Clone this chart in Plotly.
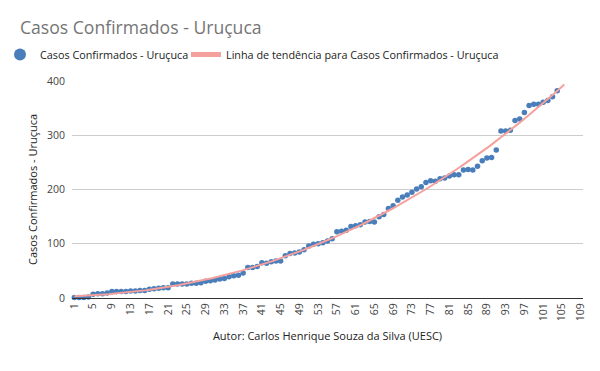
import numpy as np
import plotly.graph_objects as go

# ---- data ----
days = list(range(1, 105))
cases = [1, 1, 1, 2, 7, 8, 8, 9, 12, 12,
         12, 12, 13, 13, 14, 14, 16, 17, 18, 19,
         19, 26, 26, 26, 26, 27, 27, 28, 31, 32,
         33, 35, 36, 39, 41, 42, 46, 56, 56, 58,
         65, 64, 67, 68, 68, 78, 82, 83, 85, 89,
         96, 99, 100, 102, 105, 109, 122, 123, 125, 132,
         133, 135, 140, 141, 140, 150, 154, 165, 170, 180,
         186, 190, 195, 201, 205, 213, 216, 215, 220, 221,
         225, 227, 227, 236, 237, 236, 243, 253, 258, 259,
         273, 308, 308, 309, 327, 330, 342, 355, 357, 357,
         361, 364, 371, 382]
x_tick_vals = [1, 5, 9, 13, 17, 21, 25, 29, 33, 37, 41, 45, 49, 53, 57,
               61, 65, 69, 73, 77, 81, 85, 89, 93, 97, 101, 105, 109]
x_tick_text = ["1", "5", "9", "13", "17", "21", "25", "29", "33", "37", "41",
               "45", "49", "53", "57", "61", "65", "69", "73", "77", "81",
               "85", "89", "93", "97", "101", "105", "109"]
y_tick_vals = [0, 100, 200, 300, 400]

series_name = "Casos Confirmados - Uruçuca"
trend_name = "Linha de tendência para Casos Confirmados - Uruçuca"

# polynomial trendline fitted to the data (as the spreadsheet does)
coef = np.polyfit(days, cases, 3)
tx = np.linspace(days[0], days[-1] + 1.5, 300)
ty = np.polyval(coef, tx)

FONT = "Open Sans"
W, H = 592, 363  # page body has an 8px margin inside the 600x371 window
PL, PR = 64, 575  # plot area left/right in figure px

fig = go.Figure()
fig.add_trace(go.Scatter(
    x=days, y=cases, mode="markers", name=series_name,
    marker=dict(color="#4a7ebb", size=5.5),
    cliponaxis=False, legend="legend",
))
fig.add_trace(go.Scatter(
    x=tx, y=ty, mode="lines", name=trend_name,
    line=dict(color="#f4a19e", width=2),
    hoverinfo="skip", legend="legend2",
))

legend_common = dict(orientation="h", xanchor="left",
                     yref="container", yanchor="top",
                     font=dict(family=FONT, size=10.8, color="#222222"),
                     itemsizing="constant", bgcolor="rgba(0,0,0,0)")

fig.update_layout(
    width=W, height=H,
    paper_bgcolor="white", plot_bgcolor="white",
    margin=dict(l=PL, r=W - PR, t=73, b=73, autoexpand=False),
    font=dict(family=FONT, size=11, color="#444444"),
    title=dict(text="Casos Confirmados - Uruçuca",
               font=dict(family=FONT, size=17.6, color="#757575"),
               xref="container", x=12/W, xanchor="left",
               yref="container", y=1 - 19.5/H, yanchor="middle"),
    showlegend=True,
    legend=dict(legend_common, xref="paper", x=(-8 - PL)/(PR - PL), y=1 - 32/H),
    legend2=dict(legend_common, xref="container", x=178/W, y=1 - 32/H),
    xaxis=dict(range=[0.5, 109.5], tickmode="array",
               tickvals=x_tick_vals, ticktext=x_tick_text, tickangle=-90,
               showgrid=False, zeroline=False, showline=True,
               linecolor="#333333", linewidth=1, ticks="", automargin=False,
               tickfont=dict(size=10.5, color="#444444"),
               title=dict(text="Autor: Carlos Henrique Souza da Silva (UESC)",
                          font=dict(size=11, color="#222222"), standoff=12)),
    yaxis=dict(range=[0, 400], tickmode="array", tickvals=y_tick_vals,
               showgrid=True, gridcolor="#cccccc", gridwidth=1,
               zeroline=False, showline=False, ticks="", automargin=False,
               ticklabelstandoff=6,
               tickfont=dict(size=10.5, color="#444444"),
               title=dict(text="Casos Confirmados - Uruçuca",
                          font=dict(size=11, color="#222222"), standoff=7)),
)

fig.write_html("out.html")
